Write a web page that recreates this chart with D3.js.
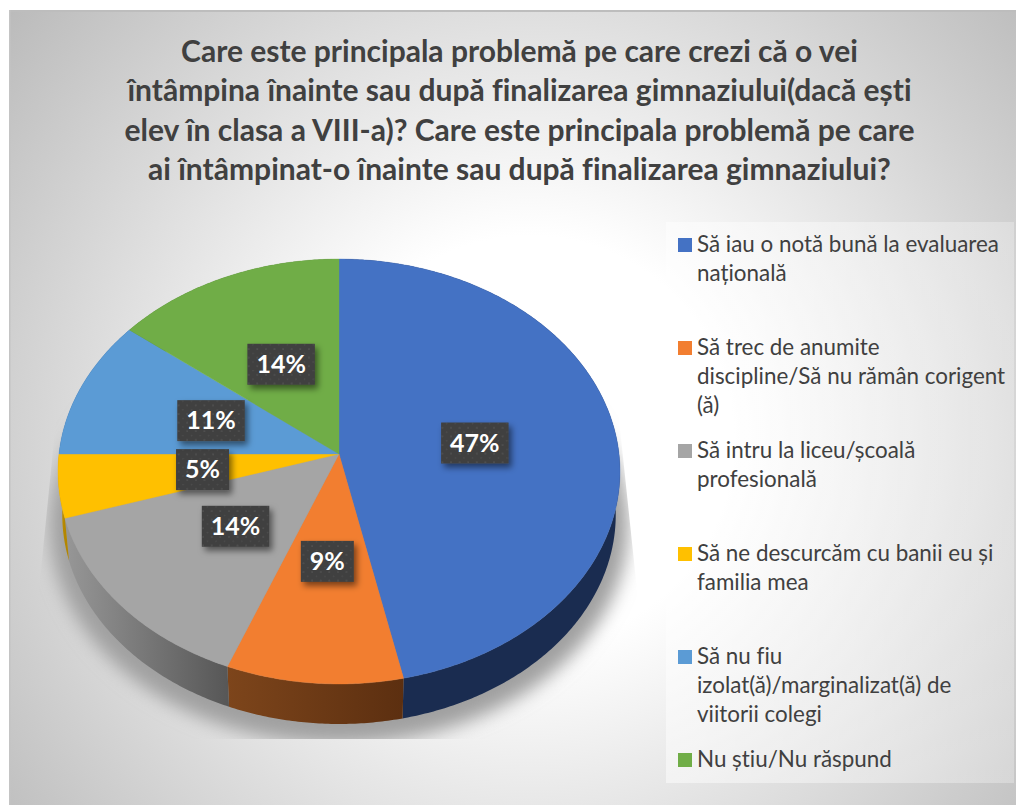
<!DOCTYPE html>
<html lang="ro">
<head>
<meta charset="utf-8">
<script src="https://cdn.jsdelivr.net/npm/d3@7"></script>
<style>
html,body{margin:0;padding:0;background:#fff;overflow:hidden}
svg{display:block}
text{font-family:Lato,"Open Sans",sans-serif;font-variant-ligatures:none}
</style>
</head>
<body>
<svg id="chart" width="1016" height="805"></svg>
<script>
const titleLines = [
  "Care este principala problemă pe care crezi că o vei",
  "întâmpina înainte sau după finalizarea gimnaziului(dacă ești",
  "elev în clasa a VIII-a)? Care este principala problemă pe care",
  "ai întâmpinat-o înainte sau după finalizarea gimnaziului?"
];
const categories = [
  ["Să iau o notă bună la evaluarea", "națională"],
  ["Să trec de anumite", "discipline/Să nu rămân corigent", "(ă)"],
  ["Să intru la liceu/școală", "profesională"],
  ["Să ne descurcăm cu banii eu și", "familia mea"],
  ["Să nu fiu", "izolat(ă)/marginalizat(ă) de", "viitorii colegi"],
  ["Nu știu/Nu răspund"]
];
const values = [46.6, 9.4, 14.2, 4.8, 10.6, 14.4];
const colors = ["#4472c4", "#f27e30", "#a5a5a5", "#ffc000", "#5b9bd5", "#70ad47"];
const wallLeft  = ["#1a2c50", "#7d451b", "#979797", "#c49300", "#2f5f8f", "#44692b"];
const wallRight = ["#1a2c50", "#5c2f10", "#575757", "#b38600", "#2f5f8f", "#44692b"];

const svg = d3.select("#chart");
const defs = svg.append("defs");

/* background */
const bg = defs.append("radialGradient").attr("id","bg").attr("gradientUnits","userSpaceOnUse")
  .attr("cx",530).attr("cy",440).attr("r",680);
bg.append("stop").attr("offset","0.3").attr("stop-color","#ffffff");
bg.append("stop").attr("offset","1").attr("stop-color","#bababa");
svg.append("rect").attr("x",9).attr("y",10).attr("width",1007).attr("height",795).attr("fill","url(#bg)");
svg.append("rect").attr("x",9).attr("y",10).attr("width",1007).attr("height",2).attr("fill","#bdbdbd");
svg.append("rect").attr("x",9).attr("y",10).attr("width",1.5).attr("height",795).attr("fill","#c4c4c4");

/* title */
const title = svg.append("text").attr("text-anchor","middle").attr("fill","#404040")
  .attr("font-weight",700).attr("font-size",30);
title.selectAll("tspan").data(titleLines).join("tspan")
  .attr("x",519.5).attr("y",(d,i)=>62+i*39.4).text(d=>d);

/* perspective model of the pie */
const cx = 339, apexY = 454, rx = 280, ry = 211, k = 0.0824;
const project = (theta, s = 1, y0 = apexY, f = 1) => {
  const u = f * Math.sin(theta), v = -f * Math.cos(theta), w = 1 - k * v;
  return [cx + s * rx * u / w, y0 + s * ry * v / w];
};
const bottom = t => project(t, 0.985, 497.5);
const samples = (a, b) => d3.range(a, b, 0.01).concat([b]);
const line = d3.line();
const pie = d3.pie().sort(null)(values);

/* shadow */
const blur = defs.append("filter").attr("id","soft").attr("x","-20%").attr("y","-20%").attr("width","140%").attr("height","140%");
blur.append("feGaussianBlur").attr("stdDeviation",9);
defs.append("clipPath").attr("id","shadowClip").append("path")
  .attr("d","M58,400L39,590L39,739L637,739L637,590L617,400Z");
svg.append("g").attr("clip-path","url(#shadowClip)").append("path")
  .attr("d",line(samples(0,2*Math.PI).map(t=>project(t,1.03,507)))+"Z")
  .attr("fill","#a0a0a0").attr("filter","url(#soft)");

/* legend box */
const lgGrad = defs.append("linearGradient").attr("id","lg");
lgGrad.append("stop").attr("offset",0).attr("stop-color","#fff").attr("stop-opacity",0.5);
lgGrad.append("stop").attr("offset",1).attr("stop-color","#fff").attr("stop-opacity",0.28);
svg.append("rect").attr("x",666).attr("y",222).attr("width",348).attr("height",561).attr("fill","url(#lg)");

/* walls */
pie.forEach((d,i)=>{
  const g = defs.append("linearGradient").attr("id","wall"+i).attr("gradientUnits","userSpaceOnUse")
    .attr("x1",project(Math.max(d.startAngle,Math.PI/2))[0]).attr("x2",project(Math.min(d.endAngle,3*Math.PI/2))[0]);
  g.append("stop").attr("offset",0).attr("stop-color", d.endAngle>Math.PI*1.05 ? wallRight[i] : wallLeft[i]);
  g.append("stop").attr("offset",1).attr("stop-color", d.endAngle>Math.PI*1.05 ? wallLeft[i] : wallRight[i]);
});
svg.append("g").selectAll("path").data(pie).join("path")
  .attr("d",d=>{
    const ts = samples(d.startAngle,d.endAngle);
    return line(ts.map(t=>project(t)).concat(ts.slice().reverse().map(bottom)))+"Z";
  })
  .attr("fill",(d,i)=>`url(#wall${i})`);

/* top surface */
svg.append("g").selectAll("path").data(pie).join("path")
  .attr("d",d=>line([[cx,apexY]].concat(samples(d.startAngle,d.endAngle).map(t=>project(t))))+"Z")
  .attr("fill",(d,i)=>colors[i]).attr("stroke",(d,i)=>colors[i]).attr("stroke-width",0.4);

/* data labels */
const dots = defs.append("pattern").attr("id","dots").attr("patternUnits","userSpaceOnUse")
  .attr("width",8.6).attr("height",8.6);
dots.append("rect").attr("width",8.6).attr("height",8.6).attr("fill","#404040");
dots.append("circle").attr("cx",2).attr("cy",2).attr("r",0.9).attr("fill","#555");
dots.append("circle").attr("cx",6.3).attr("cy",6.3).attr("r",0.9).attr("fill","#4c4c4c");
const ds = defs.append("filter").attr("id","boxShadow").attr("x","-30%").attr("y","-30%").attr("width","170%").attr("height","170%");
ds.append("feDropShadow").attr("dx",3).attr("dy",4).attr("stdDeviation",3).attr("flood-color","#000").attr("flood-opacity",0.5);

const lab = svg.append("g").selectAll("g").data(pie).join("g")
  .attr("transform",d=>{
    const p = project((d.startAngle+d.endAngle)/2, 1, apexY, 0.49);
    return `translate(${p[0]},${p[1]})`;
  });
const labTxt = lab.append("text").attr("text-anchor","middle").attr("y",8.5)
  .attr("fill","#fff").attr("font-weight",700).attr("font-size",25)
  .text(d=>d3.format(".0f")(d.value)+"%");
lab.insert("rect","text").each(function(d,i){
  const w = labTxt.nodes()[i].getComputedTextLength()+18;
  d3.select(this).attr("x",-w/2).attr("y",-20.5).attr("width",w).attr("height",41)
    .attr("fill","url(#dots)").attr("filter","url(#boxShadow)");
});

/* legend */
const legendY = d3.scalePoint().domain(d3.range(categories.length)).range([238,753]);
const legend = svg.append("g").selectAll("g").data(categories).join("g")
  .attr("transform",(d,i)=>`translate(678,${legendY(i)})`);
legend.append("rect").attr("width",14).attr("height",14).attr("fill",(d,i)=>colors[i]);
legend.append("text").attr("fill","#404040").attr("font-size",22.4)
  .selectAll("tspan").data(d=>d).join("tspan")
  .attr("x",19).attr("y",(d,i)=>14+i*29).text(d=>d);
</script>
</body>
</html>
